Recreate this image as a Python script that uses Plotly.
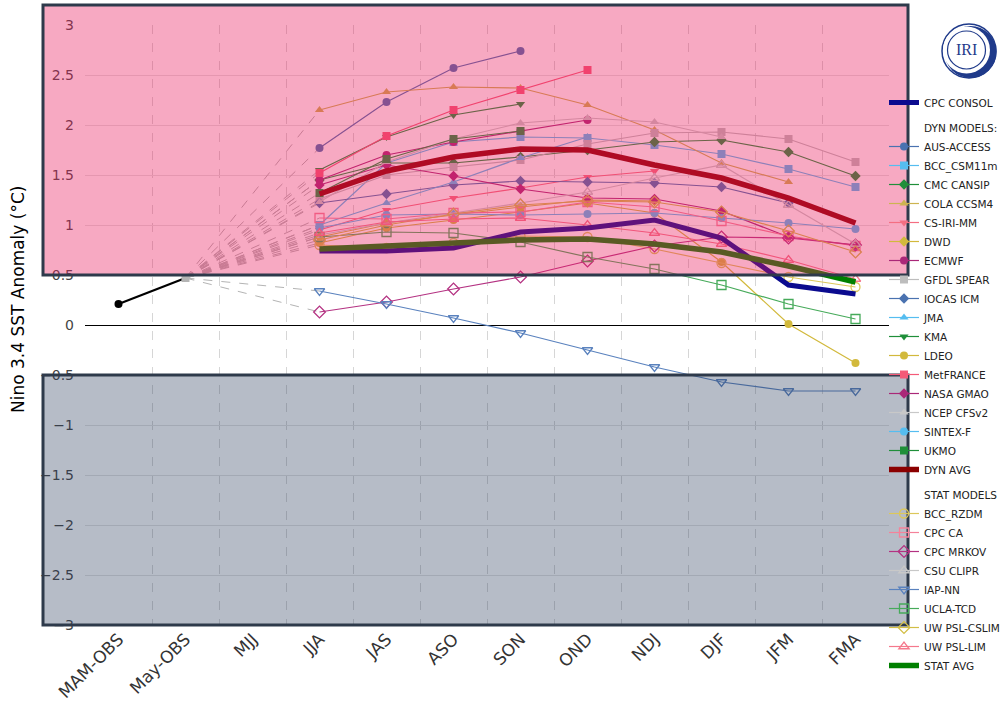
import plotly.graph_objects as go

# ---------------- data ----------------
seasons = ["MAM-OBS", "May-OBS", "MJJ", "JJA", "JAS", "ASO", "SON",
           "OND", "NDJ", "DJF", "JFM", "FMA"]
fcst_seasons = ["JJA", "JAS", "ASO", "SON", "OND", "NDJ", "DJF", "JFM", "FMA"]
obs_seasons = ["MAM-OBS", "May-OBS"]
obs_values = [0.21, 0.47]

cpc_consol = [0.74, 0.74, 0.77, 0.93, 0.97, 1.05, 0.87, 0.40, 0.31]

# dynamical models
aus_access = [1.77, 2.23, 2.57, 2.74, None, None, None, None, None]
bcc_csm11m = [1.00, 1.62, 1.83, 1.88, 1.87, 1.80, 1.71, 1.56, 1.38]
cmc_cansip = [1.45, 1.62, 1.62, 1.68, 1.75, 1.83, 1.85, 1.73, 1.49]
cola_ccsm4 = [2.15, 2.33, 2.38, 2.37, 2.20, 1.95, 1.62, 1.43, None]
cs_iri_mm = [0.95, 1.15, 1.27, 1.37, 1.48, 1.54, None, None, None]
dwd = [0.88, 1.02, 1.10, 1.18, 1.25, 1.24, None, None, None]
ecmwf = [1.45, 1.70, 1.83, 1.94, 2.05, None, None, None, None]
gfdl_spear = [1.26, 1.50, 1.58, 1.65, 1.81, 1.92, 1.93, 1.86, 1.63]
iocas_icm = [1.22, 1.31, 1.40, 1.44, 1.43, 1.42, 1.38, 1.22, None]
jma = [1.00, 1.22, 1.43, 1.67, 1.88, None, None, None, None]
kma = [1.55, 1.88, 2.10, 2.21, None, None, None, None, None]
ldeo = [0.82, 0.97, 1.05, 1.13, 1.22, 1.12, 0.63, 0.01, -0.38]
metfrance = [1.52, 1.89, 2.15, 2.35, 2.55, None, None, None, None]
nasa_gmao = [1.40, 1.60, 1.49, 1.36, 1.27, 1.26, 1.14, 0.88, 0.80]
ncep_cfsv2 = [1.23, 1.63, 1.86, 2.02, 2.07, 2.03, 1.88, None, None]
sintex_f = [0.97, 1.10, 1.11, 1.10, 1.11, 1.12, 1.07, 1.02, 0.96]
ukmo = [1.32, 1.66, 1.86, 1.94, None, None, None, None, None]
dyn_avg = [1.31, 1.54, 1.68, 1.76, 1.75, 1.60, 1.47, 1.27, 1.02]

# statistical models
bcc_rzdm = [0.80, 0.77, 0.82, 0.89, 0.88, 0.76, 0.62, 0.48, 0.38]
cpc_ca = [1.07, 1.06, 1.12, 1.13, 1.23, 1.18, 1.04, 0.89, 0.79]
cpc_mrkov = [0.13, 0.23, 0.36, 0.48, 0.64, 0.79, 0.88, 0.87, 0.80]
csu_clipr = [0.90, 1.02, 1.12, 1.22, 1.33, 1.47, 1.60, 1.20, 0.81]
iap_nn = [0.34, 0.21, 0.07, -0.08, -0.25, -0.42, -0.57, -0.66, -0.66]
ucla_tcd = [0.88, 0.93, 0.92, 0.83, 0.68, 0.56, 0.40, 0.21, 0.06]
uw_psl_cslim = [0.85, 1.00, 1.11, 1.20, 1.24, 1.23, 1.13, 0.94, 0.73]
uw_psl_lim = [0.92, 1.03, 1.06, 1.07, 1.00, 0.92, 0.81, 0.65, 0.46]
stat_avg = [0.76, 0.79, 0.83, 0.85, 0.86, 0.81, 0.73, 0.59, 0.43]

dyn_models = [
    ("AUS-ACCESS", aus_access), ("BCC_CSM11m", bcc_csm11m),
    ("CMC CANSIP", cmc_cansip), ("COLA CCSM4", cola_ccsm4),
    ("CS-IRI-MM", cs_iri_mm), ("DWD", dwd), ("ECMWF", ecmwf),
    ("GFDL SPEAR", gfdl_spear), ("IOCAS ICM", iocas_icm), ("JMA", jma),
    ("KMA", kma), ("LDEO", ldeo), ("MetFRANCE", metfrance),
    ("NASA GMAO", nasa_gmao), ("NCEP CFSv2", ncep_cfsv2),
    ("SINTEX-F", sintex_f), ("UKMO", ukmo),
]
stat_models = [
    ("BCC_RZDM", bcc_rzdm), ("CPC CA", cpc_ca), ("CPC MRKOV", cpc_mrkov),
    ("CSU CLIPR", csu_clipr), ("IAP-NN", iap_nn), ("UCLA-TCD", ucla_tcd),
    ("UW PSL-CSLIM", uw_psl_cslim), ("UW PSL-LIM", uw_psl_lim),
]

# ---------------- styles ----------------
STYLE = {
    "AUS-ACCESS": ("#4a72b0", "circle"),
    "BCC_CSM11m": ("#55bdf0", "square"),
    "CMC CANSIP": ("#1f8f3a", "diamond"),
    "COLA CCSM4": ("#cdb450", "triangle-up"),
    "CS-IRI-MM": ("#f56e82", "triangle-down"),
    "DWD": ("#d2b93c", "diamond"),
    "ECMWF": ("#aa2878", "circle"),
    "GFDL SPEAR": ("#bdbdbd", "square"),
    "IOCAS ICM": ("#4a72b0", "diamond"),
    "JMA": ("#55bdf0", "triangle-up"),
    "KMA": ("#1f8f3a", "triangle-down"),
    "LDEO": ("#d2b93c", "circle"),
    "MetFRANCE": ("#f55a78", "square"),
    "NASA GMAO": ("#aa2878", "diamond"),
    "NCEP CFSv2": ("#c8c8c8", "triangle-up"),
    "SINTEX-F": ("#55bdf0", "circle"),
    "UKMO": ("#1f8f3a", "square"),
    "BCC_RZDM": ("#dcc75a", "circle-open"),
    "CPC CA": ("#f5829a", "square-open"),
    "CPC MRKOV": ("#b43282", "diamond-open"),
    "CSU CLIPR": ("#c8c8c8", "triangle-up-open"),
    "IAP-NN": ("#5a82be", "triangle-down-open"),
    "UCLA-TCD": ("#46aa5a", "square-open"),
    "UW PSL-CSLIM": ("#d2be46", "diamond-open"),
    "UW PSL-LIM": ("#f5788c", "triangle-up-open"),
}

W, H = 1004, 705
ML, MR, MT, MB = 85, 115, 25, 80
PW, PH = W - ML - MR, H - MT - MB
YMIN, YMAX = -3, 3


def xp(px):
    return (px - ML) / PW


def yp(py):
    return (H - MB - py) / PH


def vp(v):
    return (v - YMIN) / (YMAX - YMIN)


fig = go.Figure()
rank = [0]


def nextrank():
    rank[0] += 1
    return rank[0]


# dashed connectors from the last observation to each model's first lead
cx, cy = [], []
for _, vals in dyn_models + stat_models:
    cx += [obs_seasons[-1], fcst_seasons[0], None]
    cy += [obs_values[-1], vals[0], None]
fig.add_trace(go.Scatter(x=cx, y=cy, mode="lines", showlegend=False,
                         hoverinfo="skip",
                         line=dict(color="#b4b4b4", width=1, dash="dash")))

# observations
fig.add_trace(go.Scatter(x=obs_seasons, y=obs_values, mode="lines+markers",
                         showlegend=False,
                         line=dict(color="black", width=2.2),
                         marker=dict(color=["black", "#b4b4b4"],
                                     symbol=["circle", "square"], size=8)))


def header(name, group):
    fig.add_trace(go.Scatter(x=[None], y=[None], mode="markers", name=name,
                             legendgroup=group, legendrank=nextrank(),
                             marker=dict(color="rgba(0,0,0,0)", size=1)))


r_consol = nextrank()
header("DYN MODELS:", "dyn")
for name, vals in dyn_models:
    col, sym = STYLE[name]
    fig.add_trace(go.Scatter(
        x=fcst_seasons, y=vals, name=name, mode="lines+markers",
        legendgroup="dyn", legendrank=nextrank(),
        line=dict(color=col, width=1.2),
        marker=dict(color=col, symbol=sym, size=8, line=dict(width=0))))
r_dynavg = nextrank()
header("STAT MODELS", "stat")
for name, vals in stat_models:
    col, sym = STYLE[name]
    fig.add_trace(go.Scatter(
        x=fcst_seasons, y=vals, name=name, mode="lines+markers",
        legendgroup="stat", legendrank=nextrank(),
        line=dict(color=col, width=1.2),
        marker=dict(color=col, symbol=sym, size=9, line=dict(width=1.3, color=col))))
r_statavg = nextrank()

fig.add_trace(go.Scatter(x=fcst_seasons, y=cpc_consol, name="CPC CONSOL",
                         mode="lines", legendgroup="consol", legendrank=r_consol,
                         line=dict(color="#0b0b8f", width=5)))
fig.add_trace(go.Scatter(x=fcst_seasons, y=dyn_avg, name="DYN AVG",
                         mode="lines", legendgroup="dyn", legendrank=r_dynavg,
                         line=dict(color="#8b0000", width=5.5)))
fig.add_trace(go.Scatter(x=fcst_seasons, y=stat_avg, name="STAT AVG",
                         mode="lines", legendgroup="stat", legendrank=r_statavg,
                         line=dict(color="#008000", width=5.5)))

BORDER = "#2e3a4b"
NAVY = "#1f3a8a"
shapes = [
    dict(type="line", xref="x", yref="y", x0=-0.5, x1=11.5, y0=-0.5, y1=-0.5,
         line=dict(color="#555555", width=2, dash="dash"), layer="below"),
    dict(type="line", xref="x", yref="y", x0=-0.5, x1=11.5, y0=0.5, y1=0.5,
         line=dict(color="#555555", width=2, dash="dash"), layer="below"),
    # El Nino region overlay
    dict(type="rect", xref="paper", yref="paper", x0=xp(43), x1=xp(908),
         y0=vp(0.5), y1=yp(5), fillcolor="rgba(235,30,95,0.38)",
         line=dict(color=BORDER, width=3), layer="above"),
    # La Nina region overlay
    dict(type="rect", xref="paper", yref="paper", x0=xp(43), x1=xp(908),
         y0=vp(-3), y1=vp(-0.5), fillcolor="rgba(40,60,90,0.34)",
         line=dict(color=BORDER, width=3), layer="above"),
]


def circle(cxp, cyp, r, **kw):
    return dict(type="circle", xref="paper", yref="paper",
                x0=xp(cxp - r), x1=xp(cxp + r), y0=yp(cyp + r), y1=yp(cyp - r),
                layer="above", **kw)


shapes += [
    circle(969, 51, 27, line=dict(color=NAVY, width=1.5), fillcolor="white"),
    circle(970.5, 52, 26, line=dict(width=0), fillcolor=NAVY),
    circle(966.5, 50, 23.5, line=dict(width=0), fillcolor="white"),
    circle(966.5, 50, 19, line=dict(color=NAVY, width=1.2)),
]

fig.update_layout(
    width=W, height=H,
    margin=dict(l=ML, r=MR, t=MT, b=MB, autoexpand=False),
    paper_bgcolor="white", plot_bgcolor="white",
    font=dict(family="DejaVu Sans", color="#333333"),
    showlegend=True,
    legend=dict(x=xp(884), y=yp(88), xanchor="left", yanchor="top",
                traceorder="grouped", tracegroupgap=6,
                font=dict(size=10.5, color="#222222", family="DejaVu Sans"),
                bgcolor="rgba(0,0,0,0)", itemwidth=30),
    shapes=shapes,
    annotations=[
        dict(x=xp(966.5), y=yp(50), xref="paper", yref="paper",
             text="IRI", showarrow=False, xanchor="center", yanchor="middle",
             font=dict(family="Liberation Serif", size=16, color=NAVY)),
        dict(x=xp(18), y=yp(300), xref="paper", yref="paper",
             text="Nino 3.4 SST Anomaly (°C)", showarrow=False, textangle=-90,
             xanchor="center", yanchor="middle",
             font=dict(family="DejaVu Sans", size=17, color="black")),
    ],
    xaxis=dict(type="category", categoryorder="array", categoryarray=seasons,
               range=[-0.5, len(seasons) - 0.5], tickson="boundaries",
               showgrid=True, gridcolor="#d6d6d6", griddash="dash",
               tickangle=-45, tickfont=dict(size=17, color="#333333"),
               ticks="", showline=False, zeroline=False),
    yaxis=dict(range=[YMIN, YMAX], dtick=0.5, showgrid=True,
               gridcolor="#e2e2e2", zeroline=True, zerolinecolor="black",
               zerolinewidth=1.3, tickfont=dict(size=14, color="#444444"),
               ticks="", ticklabelstandoff=10, showline=False),
)

fig.write_html(
    "out.html",
    config={"displayModeBar": False},
    post_script="document.body.style.margin='0';document.body.style.overflow='hidden';",
)
